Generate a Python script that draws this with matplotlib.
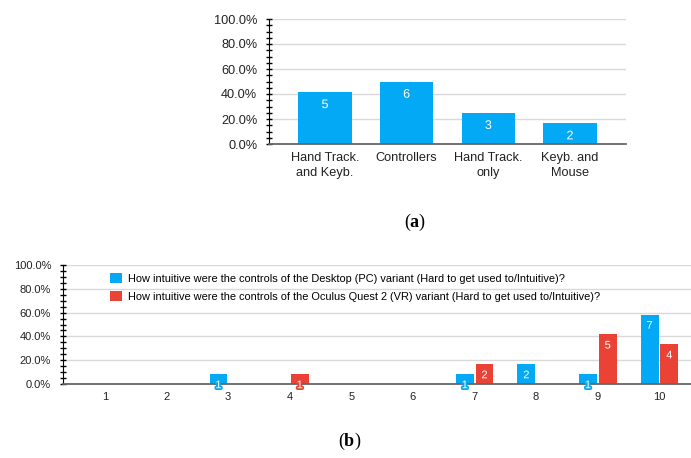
import numpy as np
import matplotlib
matplotlib.use("Agg")
import matplotlib.pyplot as plt
import matplotlib.patheffects as pe
from matplotlib.ticker import MultipleLocator, PercentFormatter

plt.rcParams['font.family'] = ['Liberation Sans', 'DejaVu Sans']
plt.rcParams['mathtext.fontset'] = 'custom'
plt.rcParams['mathtext.rm'] = 'Liberation Serif'
plt.rcParams['mathtext.bf'] = 'Liberation Serif:bold'

BLUE = '#03a9f4'
RED = '#ea4335'
GRID = '#d9d9d9'

# (a) preferred control scheme, counts out of 12
methods = ['Hand Track.\nand Keyb.', 'Controllers', 'Hand Track.\nonly', 'Keyb. and\nMouse']
method_counts = [5, 6, 3, 2]
n_a = 12

# (b) intuitiveness ratings 1..10, counts out of 12
ratings = list(range(1, 11))
pc_counts = [0, 0, 1, 0, 0, 0, 1, 2, 1, 7]
vr_counts = [0, 0, 0, 1, 0, 0, 2, 0, 5, 4]
n_b = 12
pc_label = 'How intuitive were the controls of the Desktop (PC) variant (Hard to get used to/Intuitive)?'
vr_label = 'How intuitive were the controls of the Oculus Quest 2 (VR) variant (Hard to get used to/Intuitive)?'

fig = plt.figure(figsize=(6.91, 4.58), dpi=100)


def style_axis(ax, fs):
    ax.set_ylim(0, 1)
    ax.yaxis.set_major_locator(MultipleLocator(0.2))
    ax.yaxis.set_minor_locator(MultipleLocator(0.05))
    ax.yaxis.set_major_formatter(PercentFormatter(1.0, decimals=1))
    ax.grid(axis='y', color=GRID, linewidth=1)
    ax.set_axisbelow(True)
    for s in ['top', 'right']:
        ax.spines[s].set_visible(False)
    ax.spines['left'].set_color('black')
    ax.spines['bottom'].set_color('#666666')
    ax.spines['bottom'].set_linewidth(1.3)
    ax.tick_params(axis='y', which='both', direction='inout', length=5,
                   width=1, color='black', labelsize=fs, pad=6)
    ax.tick_params(axis='x', length=0, labelsize=fs, pad=6)
    ax.tick_params(axis='both', labelcolor='#222222')


def bar_labels(ax, bars, counts, color, fs, off):
    for b, c in zip(bars, counts):
        if c == 0:
            continue
        ax.annotate(str(c), (b.get_x() + b.get_width() / 2, b.get_height()),
                    xytext=(0, -off), textcoords='offset points',
                    ha='center', va='center', color='white', fontsize=fs,
                    path_effects=[pe.withStroke(linewidth=2.5, foreground=color)])


# ---- (a)
ax1 = fig.add_axes([269 / 691, 1 - 144 / 458, 357 / 691, 125 / 458])
x1 = np.arange(len(methods))
share_a = np.array(method_counts) / n_a
bars = ax1.bar(x1, share_a, width=0.65, color=BLUE)
style_axis(ax1, 9.2)
ax1.set_xlim(-0.685, 3.685)
ax1.set_xticks(x1)
ax1.set_xticklabels(methods, linespacing=1.3)
bar_labels(ax1, bars, method_counts, BLUE, 9, 9.5)

fig.text(415 / 691, 1 - 222 / 458, r'($\mathbf{a}$)', family='Liberation Serif',
         fontsize=13, ha='center', va='center')

# ---- (b)
ax2 = fig.add_axes([63 / 691, 1 - 384 / 458, 638 / 691, 119 / 458])
x2 = np.array(ratings)
w = 0.29
b1 = ax2.bar(x2 - 0.155, np.array(pc_counts) / n_b, width=w, color=BLUE, label=pc_label)
b2 = ax2.bar(x2 + 0.165, np.array(vr_counts) / n_b, width=w, color=RED, label=vr_label)
style_axis(ax2, 8)
ax2.set_xlim(0.32, 10.68)
ax2.set_xticks(x2)
bar_labels(ax2, b1, pc_counts, BLUE, 8, 8)
bar_labels(ax2, b2, vr_counts, RED, 8, 8)
ax2.legend(loc='upper left', bbox_to_anchor=(39 / 638, 1.0), frameon=False,
           fontsize=7.9, handlelength=1.1, handleheight=1.1, handletextpad=0.6,
           labelspacing=0.65, borderaxespad=0.3)

fig.text(350 / 691, 1 - 441 / 458, r'($\mathbf{b}$)', family='Liberation Serif',
         fontsize=13, ha='center', va='center')

fig.savefig('out.png', dpi=100)
